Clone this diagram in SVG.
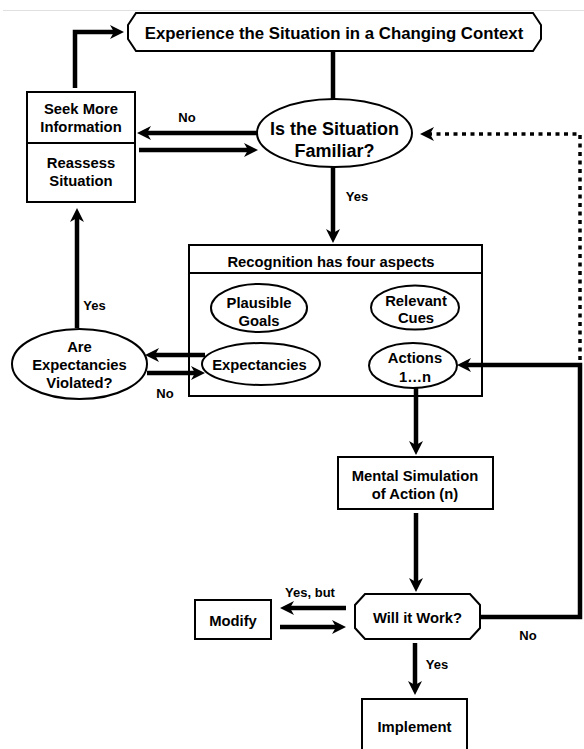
<svg xmlns="http://www.w3.org/2000/svg" width="584" height="749" viewBox="0 0 584 749">
<style>
.shape{fill:#fff;stroke:#000;stroke-width:2}
.div{stroke:#000;stroke-width:2;fill:none}
.t{font-family:"Liberation Sans",Arial,sans-serif;font-weight:bold;font-size:14.8px;fill:#000;text-anchor:middle}
.big{font-size:18px}
.top{font-size:16.8px}
.lbl{font-size:13px}
.c{fill:none;stroke:#000;stroke-width:4.5;stroke-linejoin:miter}
.a{marker-end:url(#ah)}
.dot{fill:none;stroke:#000;stroke-width:3.5;stroke-dasharray:4 4.5;marker-end:url(#ah)}
</style>
<defs>
<marker id="ah" markerUnits="userSpaceOnUse" markerWidth="16" markerHeight="16" viewBox="0 -8 16 16" refX="5" refY="0" orient="auto">
<path d="M0,-7 L14,0 L0,7 L4,0 Z" fill="#000"/>
</marker>
</defs>
<rect width="584" height="749" fill="#fff"/>
<line x1="3" y1="10.5" x2="584" y2="10.5" stroke="#e0e0e0" stroke-width="1"/>

<g id="experience">
<polygon class="shape" points="136,13 533,13 541,25 541,39 533,51 136,51 128,39 128,25"/>
<text class="t top" x="334" y="39">Experience the Situation in a Changing Context</text>
</g>

<g id="familiar">
<ellipse class="shape" cx="334.5" cy="133" rx="77.5" ry="34"/>
<text class="t big" x="334.5" y="134.5">Is the Situation</text>
<text class="t big" x="334.5" y="156.5">Familiar?</text>
</g>

<g id="seek">
<rect class="shape" x="27" y="92" width="108" height="110"/>
<line class="div" x1="27" y1="143" x2="135" y2="143"/>
<text class="t" x="81" y="114.3">Seek More</text>
<text class="t" x="81" y="132.3">Information</text>
<text class="t" x="81" y="168.3">Reassess</text>
<text class="t" x="81" y="186.3">Situation</text>
</g>

<g id="recognition">
<rect class="shape" x="189" y="245" width="293" height="151"/>
<line class="div" x1="189" y1="273" x2="482" y2="273"/>
<text class="t" x="331" y="267.3">Recognition has four aspects</text>
</g>

<g id="goals">
<ellipse class="shape" cx="259" cy="308" rx="48" ry="24"/>
<text class="t" x="259" y="308.3">Plausible</text>
<text class="t" x="259" y="326.3">Goals</text>
</g>

<g id="cues">
<ellipse class="shape" cx="415" cy="307.5" rx="44" ry="22"/>
<text class="t" x="416" y="306.3">Relevant</text>
<text class="t" x="416" y="323.3">Cues</text>
</g>

<g id="expectancies">
<ellipse class="shape" cx="261" cy="364" rx="59" ry="21"/>
<text class="t" x="259.5" y="370.3">Expectancies</text>
</g>

<g id="actions">
<ellipse class="shape" cx="413" cy="365.5" rx="44" ry="22.5"/>
<text class="t" x="415" y="363.3">Actions</text>
<text class="t" x="415" y="382.3">1…n</text>
</g>

<g id="violated">
<ellipse class="shape" cx="79.5" cy="364" rx="67.5" ry="35"/>
<text class="t" x="79.5" y="352.3">Are</text>
<text class="t" x="79.5" y="370.3">Expectancies</text>
<text class="t" x="79.5" y="388.3">Violated?</text>
</g>

<g id="simulation">
<rect class="shape" x="338" y="457" width="155" height="52"/>
<text class="t" x="415" y="481.3">Mental Simulation</text>
<text class="t" x="415" y="499.3">of Action (n)</text>
</g>

<g id="work">
<polygon class="shape" points="365,594 470,594 480,605 480,628 470,639 365,639 355,628 355,605"/>
<text class="t" x="417.5" y="623.3">Will it Work?</text>
</g>

<g id="modify">
<rect class="shape" x="195" y="600" width="76" height="39"/>
<text class="t" x="233" y="626.3">Modify</text>
</g>

<g id="implement">
<rect class="shape" x="362" y="699" width="105" height="70"/>
<text class="t" x="414.5" y="732.3">Implement</text>
</g>

<g id="connectors">
<line class="c" x1="333" y1="51" x2="333" y2="99"/>
<line class="c a" x1="333" y1="167" x2="333" y2="234"/>
<line class="c a" x1="257" y1="133" x2="146" y2="133"/>
<line class="c a" x1="139" y1="150" x2="249" y2="150"/>
<polyline class="c a" points="75,88 75,32 115,32"/>
<line class="c a" x1="77" y1="328" x2="77" y2="217"/>
<line class="c a" x1="205" y1="355" x2="154" y2="355"/>
<line class="c a" x1="147" y1="373" x2="196" y2="373"/>
<line class="c a" x1="416" y1="388" x2="416" y2="446"/>
<line class="c a" x1="416" y1="513" x2="416" y2="583"/>
<line class="c a" x1="415" y1="643" x2="415" y2="686"/>
<line class="c a" x1="346" y1="608" x2="289" y2="608"/>
<line class="c a" x1="280" y1="627" x2="337" y2="627"/>
<polyline class="c a" points="480,617 580,617 580,365 466,365"/>
<polyline class="dot" points="580,360 580,134 429,134"/>
<text class="t lbl" x="187" y="121.6">No</text>
<text class="t lbl" x="357" y="200.6">Yes</text>
<text class="t lbl" x="94.5" y="309.6">Yes</text>
<text class="t lbl" x="165" y="397.6">No</text>
<text class="t lbl" x="310" y="596.6">Yes, but</text>
<text class="t lbl" x="528" y="639.6">No</text>
<text class="t lbl" x="437" y="668.6">Yes</text>
</g>
</svg>
